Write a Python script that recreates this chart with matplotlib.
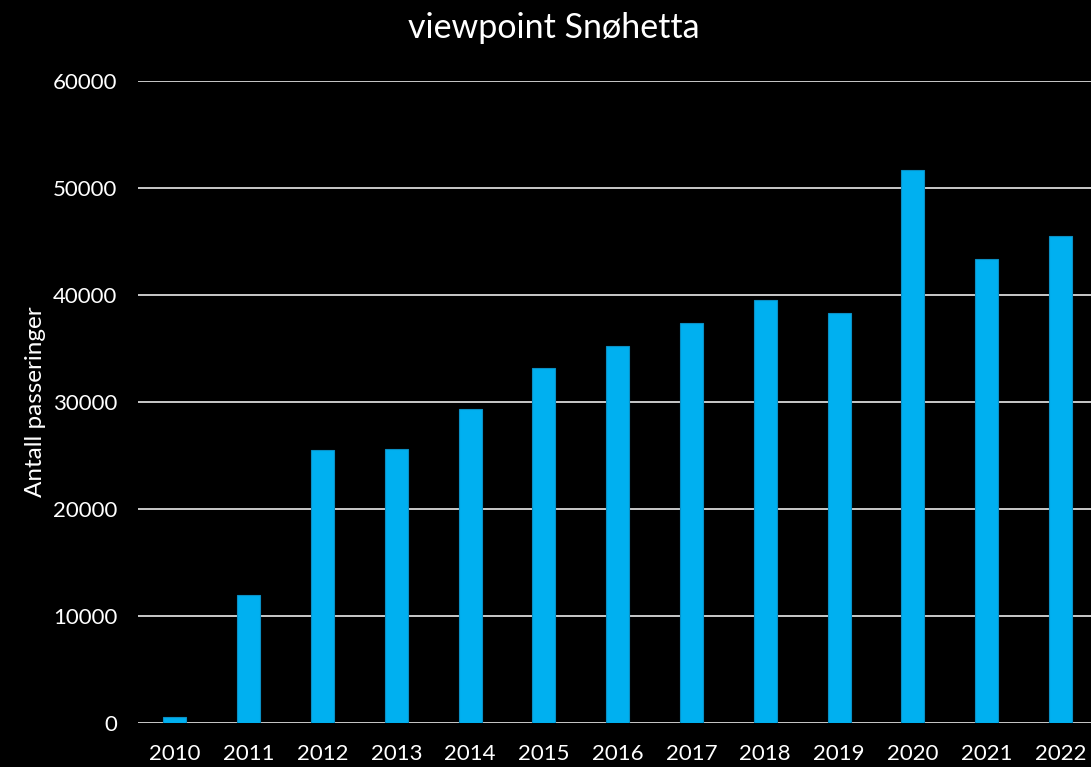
import matplotlib
matplotlib.use("Agg")
import matplotlib.pyplot as plt
import numpy as np

years = ["2010", "2011", "2012", "2013", "2014", "2015", "2016",
         "2017", "2018", "2019", "2020", "2021", "2022"]
passeringer = [530, 12000, 25500, 25600, 29300, 33150, 35250,
               37400, 39550, 38300, 51650, 43350, 45500]

plt.rcParams["font.family"] = ["Lato", "DejaVu Sans"]

fig = plt.figure(figsize=(10.91, 7.67), dpi=100, facecolor="black")
ax = fig.add_axes([138/1091, 44/767, 959.4/1091, 642/767], facecolor="black")

x = np.arange(len(years))
ax.bar(x, passeringer, width=0.31, color="#00b0f0", edgecolor="#0a8fc4",
       linewidth=0.8, zorder=3)

ax.set_xlim(-0.5, len(years) - 0.5)
ax.set_ylim(0, 60000)
ax.set_yticks(range(0, 60001, 10000))
ax.set_xticks(x)
ax.set_xticklabels(years)
ax.grid(axis="y", color="#d9d9d9", linewidth=1.3, zorder=0)
for s in ax.spines.values():
    s.set_visible(False)
ax.tick_params(colors="white", labelsize=16, length=0)
ax.tick_params(axis="x", pad=15)
ax.tick_params(axis="y", pad=15)

# y label placed directly in figure coordinates
fig.text(36/1091, 1 - 402/767, "Antall passeringer", color="white",
         fontsize=17.5, rotation=90, ha="center", va="center")

fig.text(554/1091, 1 - 28/767, "viewpoint Snøhetta", color="white",
         fontsize=24.5, ha="center", va="center")

fig.savefig("out.png", dpi=100, facecolor="black")
